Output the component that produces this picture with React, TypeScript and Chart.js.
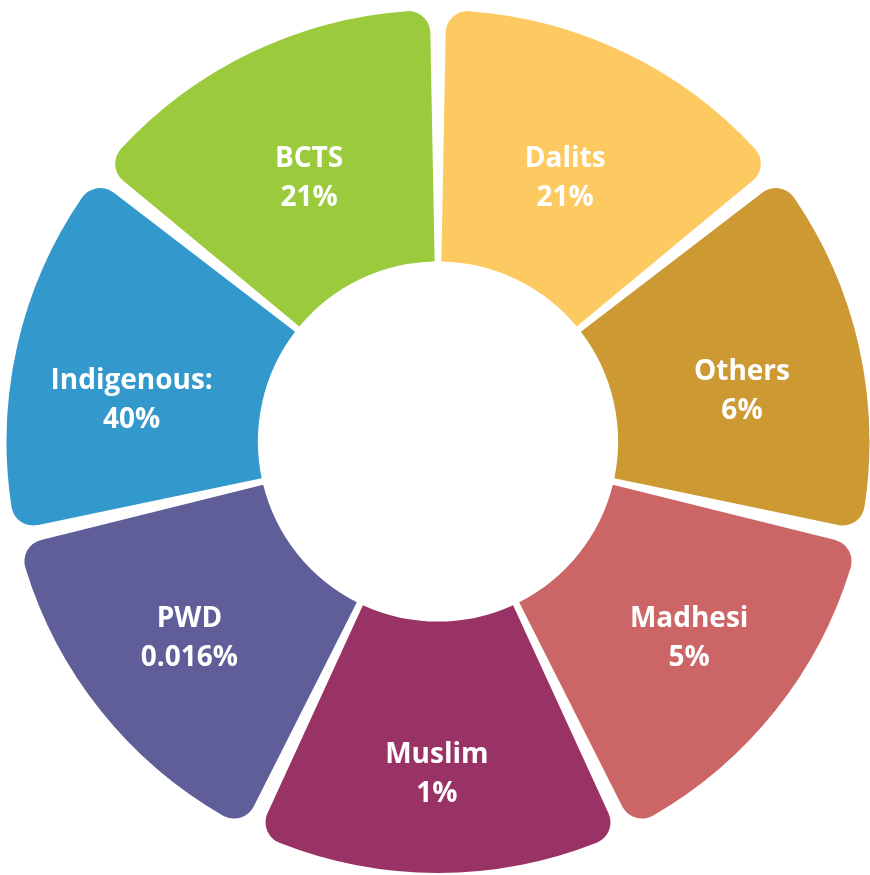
import React, { useEffect, useRef } from "react";
import { Chart, registerables } from "chart.js";

Chart.register(...registerables);

const categories = ["Dalits", "Others", "Madhesi", "Muslim", "PWD", "Indigenous:", "BCTS"];
const percentLabels = ["21%", "6%", "5%", "1%", "0.016%", "40%", "21%"];
const segmentValues = [1, 1, 1, 1, 1, 1, 1];
const colors = ["#FDCA62", "#CC9933", "#CC6666", "#993366", "#5F5E99", "#3399CC", "#9BCB3C"];
const labelRadiusPx = [292, 308, 319, 333, 317, 309, 293];
const labelAngleOffsetDeg = [0.1, 3.6, -0.5, 0.2, 0.2, -5.3, -0.4];

const labelPlugin = {
  id: "segLabels",
  afterDatasetsDraw(chart: any) {
    const ctx = chart.ctx;
    const meta = chart.getDatasetMeta(0);
    ctx.save();
    ctx.fillStyle = "#ffffff";
    ctx.font = "bold 28px 'Open Sans', 'Noto Sans', sans-serif";
    ctx.textAlign = "center";
    ctx.textBaseline = "middle";
    meta.data.forEach((arc: any, i: number) => {
      const { x, y, startAngle, endAngle } = arc.getProps(["x", "y", "startAngle", "endAngle"], true);
      const mid = (startAngle + endAngle) / 2 + (labelAngleOffsetDeg[i] * Math.PI) / 180;
      const r = labelRadiusPx[i];
      const cx = x + Math.cos(mid) * r;
      const cy = y + Math.sin(mid) * r;
      ctx.fillText(categories[i], cx, cy - 19.5);
      ctx.fillText(percentLabels[i], cx, cy + 19.5);
    });
    ctx.restore();
  },
};

export default function App() {
  const ref = useRef<HTMLCanvasElement>(null);
  useEffect(() => {
    if (!ref.current) return;
    const chart = new Chart(ref.current, {
      type: "doughnut",
      data: {
        labels: categories,
        datasets: [
          {
            data: segmentValues,
            backgroundColor: colors,
            borderWidth: 0,
            spacing: 25,
            borderRadius: { outerStart: 22, outerEnd: 22, innerStart: 0, innerEnd: 0 },
          },
        ],
      },
      options: {
        animation: false,
        responsive: false,
        cutout: "40%",
        layout: { padding: { left: 6, right: 0, top: 10, bottom: 2 } },
        plugins: { legend: { display: false }, tooltip: { enabled: false } },
      },
      plugins: [labelPlugin],
    });
    return () => chart.destroy();
  }, []);
  return (
    <div style={{ position: "absolute", left: 0, top: 0, width: 870, height: 875, background: "#fff" }}>
      <canvas ref={ref} width={870} height={875} />
    </div>
  );
}
